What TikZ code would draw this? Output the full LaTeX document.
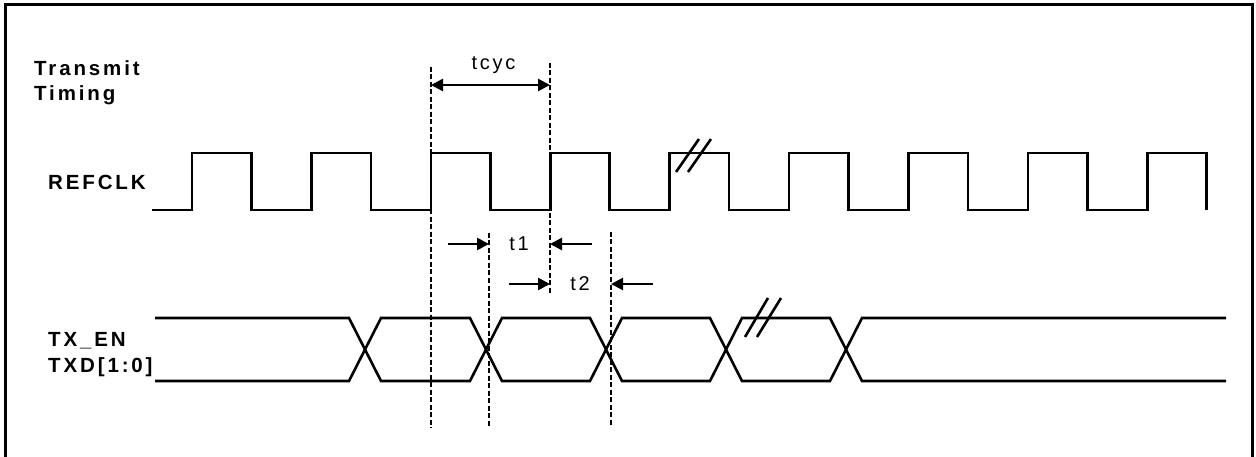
\documentclass[tikz,border=0pt]{standalone}
\usepackage{fontspec}
\setmainfont{Liberation Sans}
\newfontfamily\widefont[LetterSpace=14]{Liberation Sans}
\newfontfamily\tfont[LetterSpace=14]{Liberation Sans}
\usetikzlibrary{arrows.meta,positioning}

\begin{document}
\begin{tikzpicture}[
  x=1pt, y=-1pt,
  >={Triangle[length=12pt,width=12pt]},
  sig/.style={line width=2.6pt, line join=miter},
  guide/.style={line width=2.6pt, dash pattern=on 5pt off 2.5pt},
  dim/.style={line width=2.6pt},
  signame/.style={font=\widefont\fontsize{20.5}{25.7}\selectfont\bfseries, align=left, inner sep=0pt},
  tlabel/.style={font=\tfont\fontsize{20}{22}\selectfont, inner sep=0pt},
]
\useasboundingbox (0,0) rectangle (1256,457);
\draw[line width=3pt] (5,470) -- (5,5) -- (1252,5) -- (1252,470);

% signal names
\node[signame, anchor=base west] (title) at (34,101) {Transmit\\Timing};
\node[signame, anchor=base west] (refclk) at (48,190) {REFCLK};
\node[signame, anchor=base west] (txen) at (48,372) {TX\_EN\\TXD[1:0]};

% REFCLK
\draw[sig] (152,210) foreach \k in {0,...,8} {
  -- ({192+119.4*\k},210) -- ({192+119.4*\k},153)
  -- ({251.5+119.4*\k},153) -- ({251.5+119.4*\k},210) };
\draw[sig] (676,172) -- (699,139);
\draw[sig] (688,172) -- (711,139);

% TX_EN / TXD[1:0]
\draw[sig] (155,318) -- (349,318) -- (381,381) -- (470,381) -- (502,318)
  -- (590,318) -- (622,381) -- (710,381) -- (742,318) -- (830,318)
  -- (862,381) -- (1226,381);
\draw[sig] (155,381) -- (349,381) -- (381,318) -- (470,318) -- (502,381)
  -- (590,381) -- (622,318) -- (710,318) -- (742,381) -- (830,381)
  -- (862,318) -- (1226,318);
\draw[sig] (745,337) -- (768,298);
\draw[sig] (757,337) -- (781,298);

% guide lines
\coordinate (ga-top) at (431,67);  \coordinate (ga-bot) at (431,428);
\coordinate (gb-top) at (550,63);  \coordinate (gb-bot) at (550,293);
\coordinate (gc-top) at (489,233); \coordinate (gc-bot) at (489,427);
\coordinate (gd-top) at (611,232); \coordinate (gd-bot) at (611,425);
\foreach \g in {ga,gb,gc,gd}
  \draw[guide] (\g-top) -- (\g-bot);

% tcyc
\coordinate (tcyc-l) at (431,85);
\coordinate (tcyc-r) at (550,85);
\draw[dim, <->] (tcyc-l) -- node[tlabel, anchor=base, xshift=3pt, yshift=15pt] (tcyc) {tcyc} (tcyc-r);

% t1
\coordinate (t1-a) at (448,244); \coordinate (t1-l) at (489,244);
\coordinate (t1-b) at (592,244); \coordinate (t1-r) at (550,244);
\draw[dim, ->] (t1-a) -- (t1-l);
\draw[dim, ->] (t1-b) -- (t1-r);
\node[tlabel] (t1) at (519,244) {t1};

% t2
\coordinate (t2-a) at (509,284); \coordinate (t2-l) at (550,284);
\coordinate (t2-b) at (653,284); \coordinate (t2-r) at (611,284);
\draw[dim, ->] (t2-a) -- (t2-l);
\draw[dim, ->] (t2-b) -- (t2-r);
\node[tlabel] (t2) at (580,284) {t2};
\end{tikzpicture}
\end{document}
